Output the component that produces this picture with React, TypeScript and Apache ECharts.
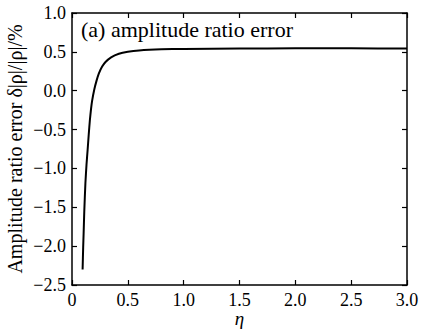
import React, { useEffect, useRef } from "react";
import * as echarts from "echarts";

const etaValues = [0.095, 0.1, 0.104, 0.11, 0.12, 0.13, 0.14, 0.15, 0.16, 0.17, 0.18, 0.2, 0.22, 0.24, 0.27, 0.3, 0.35, 0.42, 0.5, 0.6, 0.8, 1.0, 1.5, 2.0, 2.5, 3.0];
const errorValues = [-2.3, -2.02, -1.84, -1.55, -1.19, -0.95, -0.76, -0.56, -0.38, -0.24, -0.13, 0.02, 0.13, 0.22, 0.31, 0.37, 0.43, 0.475, 0.5, 0.517, 0.532, 0.538, 0.543, 0.545, 0.545, 0.542];
const xTickLabels = ["0", "0.5", "1.0", "1.5", "2.0", "2.5", "3.0"];
const yTickLabels = ["-2.5", "-2.0", "-1.5", "-1.0", "-0.5", "0.0", "0.5", "1.0"];

const FONT = "Liberation Serif";

export default function App() {
  const ref = useRef<HTMLDivElement>(null);
  useEffect(() => {
    document.body.style.margin = "0";
    const chart = echarts.init(ref.current!, null, { renderer: "svg" });
    const data = etaValues.map((x, i) => [x, errorValues[i]]);
    const xFmt = (v: number) => {
      const idx = Math.round(v / 0.5);
      return xTickLabels[idx] ?? "";
    };
    const yFmt = (v: number) => {
      const idx = Math.round((v + 2.5) / 0.5);
      const s = yTickLabels[idx] ?? "";
      return s.replace("-", "\u2212");
    };
    const common = {
      axisLine: { show: true, onZero: false, lineStyle: { color: "#000", width: 1.5 } },
      axisTick: { show: true, inside: true, length: 5, lineStyle: { color: "#000", width: 1.2 } },
      splitLine: { show: false },
    };
    chart.setOption({
      animation: false,
      backgroundColor: "#fff",
      grid: { left: 72, right: 14, top: 13, bottom: 46, containLabel: false, outerBoundsMode: "none" },
      title: {
        text: "(a) amplitude ratio error",
        left: 76,
        top: 13,
        textStyle: { fontFamily: FONT, fontSize: 22, fontWeight: "normal", color: "#000" },
      },
      xAxis: [
        {
          type: "value",
          min: 0,
          max: 3,
          interval: 0.5,
          position: "bottom",
          name: "η",
          nameLocation: "middle",
          nameGap: 24,
          nameMoveOverlap: false,
          nameTextStyle: { fontFamily: FONT, fontSize: 19, fontStyle: "italic", color: "#000" },
          axisLabel: { fontFamily: FONT, fontSize: 18, color: "#000", margin: 6, formatter: xFmt },
          ...common,
        },
        {
          type: "value",
          min: 0,
          max: 3,
          interval: 0.5,
          position: "top",
          axisLabel: { show: false },
          ...common,
        },
      ],
      yAxis: [
        {
          type: "value",
          min: -2.5,
          max: 1.0,
          interval: 0.5,
          position: "left",
          name: "Amplitude ratio error δ|ρ|/|ρ|/%",
          nameLocation: "middle",
          nameRotate: 90,
          nameGap: 47,
          nameMoveOverlap: false,
          nameTextStyle: { fontFamily: FONT, fontSize: 20, color: "#000" },
          axisLabel: { fontFamily: FONT, fontSize: 18, color: "#000", margin: 6, formatter: yFmt },
          ...common,
        },
        {
          type: "value",
          min: -2.5,
          max: 1.0,
          interval: 0.5,
          position: "right",
          axisLabel: { show: false },
          ...common,
        },
      ],
      series: [
        {
          type: "line",
          data,
          smooth: 0.2,
          showSymbol: false,
          lineStyle: { color: "#000", width: 2 },
        },
      ],
    });
    return () => chart.dispose();
  }, []);
  return <div ref={ref} style={{ width: 421, height: 331 }} />;
}
